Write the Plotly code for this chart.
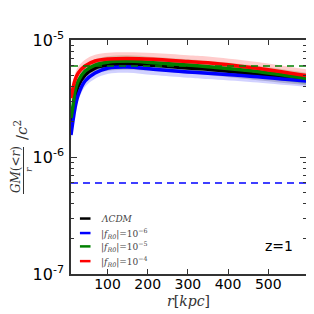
import plotly.graph_objects as go

# radius [kpc]
r = [9, 15, 19, 27, 44, 69, 102, 150, 214, 300, 350, 462, 595]

# GM(<r)/r/c^2 (units of 1e-6)
lcdm = [1.88, 2.52, 3.19, 4.04, 5.02, 5.76, 6.11, 6.23, 6.08, 5.76, 5.62, 5.12, 4.60]
f6   = [1.54, 2.15, 2.62, 3.39, 4.46, 5.23, 5.76, 5.88, 5.62, 5.33, 5.19, 4.88, 4.46]
f5   = [2.15, 2.90, 3.66, 4.46, 5.43, 6.11, 6.48, 6.61, 6.40, 6.11, 5.91, 5.43, 4.69]
f4   = [3.19, 4.04, 4.55, 5.23, 6.00, 6.61, 6.88, 6.95, 6.84, 6.55, 6.40, 5.80, 4.97]

# relative scatter of the shaded bands
band_frac = [0.12, 0.12, 0.12, 0.13]

# horizontal reference levels
level_green = 6.0e-6
level_blue = 6.0e-7

x_ticks = [100, 200, 300, 400, 500]
y_ticks = [1e-7, 1e-6, 1e-5]
y_ticktext = ["10<sup>-7</sup>", "10<sup>-6</sup>", "10<sup>-5</sup>"]
y_minor = [m * d for d in (1e-7, 1e-6) for m in range(2, 10)]

series = [
    ("<i>ΛCDM</i>", lcdm, "black", "rgba(0,0,0,0.18)"),
    ("|<i>f</i><sub><i>R0</i></sub>|=10<sup>−6</sup>", f6, "blue", "rgba(0,0,255,0.18)"),
    ("|<i>f</i><sub><i>R0</i></sub>|=10<sup>−5</sup>", f5, "green", "rgba(0,128,0,0.18)"),
    ("|<i>f</i><sub><i>R0</i></sub>|=10<sup>−4</sup>", f4, "red", "rgba(255,0,0,0.2)"),
]

fig = go.Figure()

for (name, vals, col, fcol), bf in zip(series, band_frac):
    v = [x * 1e-6 for x in vals]
    up = [x * (1 + bf) for x in v]
    lo = [x / (1 + bf) for x in v]
    fig.add_trace(go.Scatter(x=r, y=up, mode="lines", line=dict(width=0, shape="spline", smoothing=1),
                             showlegend=False, hoverinfo="skip"))
    fig.add_trace(go.Scatter(x=r, y=lo, mode="lines", line=dict(width=0, shape="spline", smoothing=1),
                             fill="tonexty", fillcolor=fcol, showlegend=False, hoverinfo="skip"))

for (name, vals, col, fcol) in series:
    v = [x * 1e-6 for x in vals]
    fig.add_trace(go.Scatter(x=r, y=v, mode="lines", name=name, showlegend=False,
                             line=dict(color=col, width=3.5, shape="spline", smoothing=1)))

fig.add_trace(go.Scatter(x=[r[0], r[-1]], y=[level_green, level_green], mode="lines",
                         line=dict(color="green", width=1.5, dash="7px,5px"), showlegend=False))
fig.add_trace(go.Scatter(x=[r[0], r[-1]], y=[level_blue, level_blue], mode="lines",
                         line=dict(color="blue", width=1.5, dash="7px,5px"), showlegend=False))

# manual legend (compact, like the reference)
leg_y = [0.237, 0.175, 0.118, 0.055]
for (name, vals, col, fcol), ly in zip(series, leg_y):
    fig.add_shape(type="line", xref="paper", yref="paper", x0=0.038, x1=0.083, y0=ly, y1=ly,
                  line=dict(color=col, width=2.5))
    fig.add_annotation(x=0.12, y=ly, xref="paper", yref="paper", text=name, showarrow=False,
                       xanchor="left", yanchor="middle",
                       font=dict(family="DejaVu Serif", size=9, color="#444"))

fig.add_annotation(x=0.955, y=0.075, xref="paper", yref="paper", text="z=1", showarrow=False,
                   xanchor="right", yanchor="bottom",
                   font=dict(family="DejaVu Sans", size=14, color="black"))

# y-axis label drawn as a fraction: GM(<r) / r, then / c^2
def px(xp):
    return (xp - 63) / 235

def py(yp):
    return (266 - yp) / 234

fig.add_annotation(x=px(8), y=py(162), xref="paper", yref="paper", xanchor="center", yanchor="middle",
                   text="<i>GM</i>(&lt;<i>r</i>)", textangle=-90, showarrow=False,
                   font=dict(family="DejaVu Serif", size=12, color="#333"))
fig.add_shape(type="line", xref="paper", yref="paper",
              x0=px(15.5), x1=px(15.5), y0=py(186), y1=py(139),
              line=dict(color="#333", width=1))
fig.add_annotation(x=px(21), y=py(162), xref="paper", yref="paper", xanchor="center", yanchor="middle",
                   text="<i>r</i>", textangle=-90, showarrow=False,
                   font=dict(family="DejaVu Serif", size=9, color="#333"))
fig.add_annotation(x=px(13), y=py(122), xref="paper", yref="paper", xanchor="center", yanchor="middle",
                   text="/<i>c</i><sup>2</sup>", textangle=-90, showarrow=False,
                   font=dict(family="DejaVu Serif", size=15, color="#333"))

fig.update_layout(
    width=314, height=314,
    margin=dict(l=63, r=16, t=32, b=48),
    paper_bgcolor="white", plot_bgcolor="white",
    showlegend=False,
    font=dict(family="DejaVu Sans", color="black"),
)

fig.update_xaxes(
    range=[9, 594], showgrid=False, zeroline=False,
    tickvals=x_ticks, ticks="inside", ticklen=5, tickcolor="#333",
    showline=True, linecolor="#333", linewidth=1.5, mirror="allticks",
    tickfont=dict(family="DejaVu Sans", size=14, color="black"),
    ticklabelstandoff=-4,
    title=dict(text="<i>r</i>[<i>kpc</i>]", font=dict(family="DejaVu Serif", size=14, color="#333"), standoff=6),
)

fig.update_yaxes(
    type="log", range=[-7, -5], showgrid=False, zeroline=False,
    tickvals=y_ticks, ticktext=y_ticktext,
    ticks="inside", ticklen=6, tickcolor="#333",
    minor=dict(tickvals=y_minor, ticks="inside", ticklen=3, tickcolor="#333", showgrid=False),
    showline=True, linecolor="#333", linewidth=1.5, mirror="allticks",
    tickfont=dict(family="DejaVu Sans", size=16, color="black"),
    ticklabelstandoff=2,
)

fig.write_html("out.html")
